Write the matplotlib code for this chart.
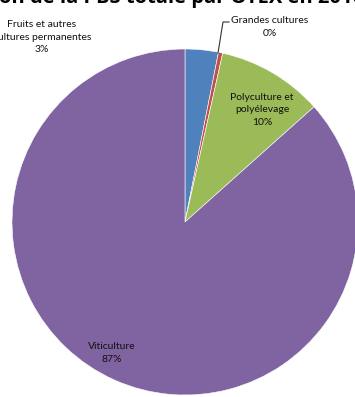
import matplotlib.pyplot as plt

# PBS share by farm type (OTEX)
categories = ["Fruits et autres\ncultures permanentes", "Grandes cultures",
              "Polyculture et\npolyélevage", "Viticulture"]
shares = [3.1, 0.4, 9.9, 86.6]
colors = ["#4F81BD", "#C0504D", "#9BBB59", "#8064A2"]

W, H = 355, 397
fig = plt.figure(figsize=(W / 100, H / 100), dpi=100)
ax = fig.add_axes([0, 0, 1, 1])

cx, cy, r = 185, H - 222, 173
ax.pie(shares, colors=colors, startangle=90, counterclock=False,
       center=(cx, cy), radius=r, frame=True,
       wedgeprops=dict(edgecolor="white", linewidth=0.4))
ax.set_xlim(0, W)
ax.set_ylim(0, H)
ax.set_aspect("equal")
ax.axis("off")

font = ["Lato", "DejaVu Sans"]
# label anchor positions in pixel coords (from top-left)
label_pos = [(42, 37), (270, 27), (262, 110), (112, 353)]
for name, val, (x, y) in zip(categories, shares, label_pos):
    ax.text(x, H - y, f"{name}\n{round(val):.0f}%", ha="center", va="center",
            fontsize=7.5, family=font, color="#111111", linespacing=1.45)

# leader line for the tiny slice
ax.plot([229, 223, 218], [H - 22, H - 22, H - 53], color="#333333", lw=0.8)

fig.text(0.55, 1.004, "Répartition de la PBS totale par OTEX en 2010 en Gironde",
         ha="center", va="center", fontsize=14.5, fontweight="bold",
         family=["Open Sans", "DejaVu Sans"])

fig.savefig("out.png", dpi=100)
